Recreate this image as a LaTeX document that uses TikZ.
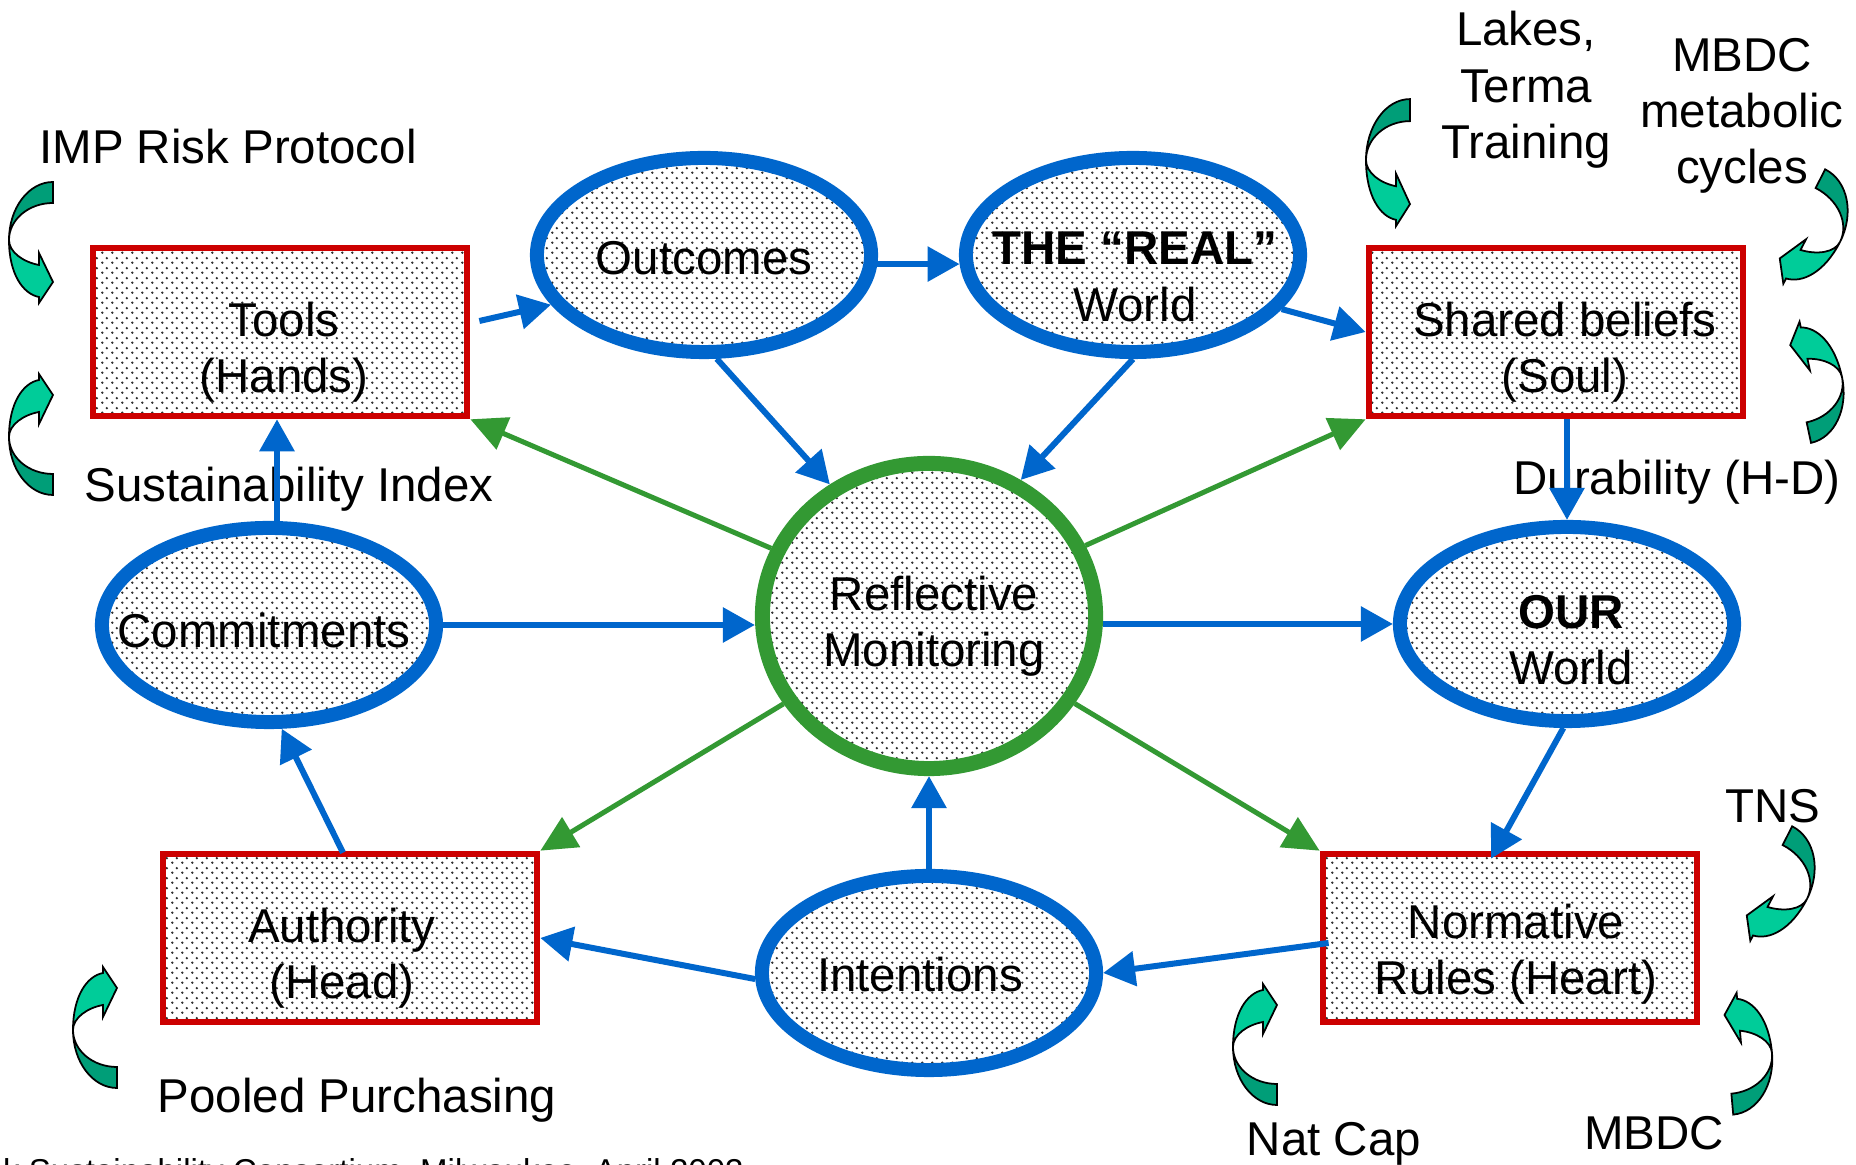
\documentclass[tikz,border=0pt]{standalone}
\usepackage{fontspec}
\setmainfont{Liberation Sans}
\usetikzlibrary{arrows.meta,shapes.geometric,patterns,calc}

\definecolor{bluec}{HTML}{0066CC}
\definecolor{greenc}{HTML}{339933}
\definecolor{redc}{HTML}{CC0000}
\definecolor{teallight}{HTML}{00CC99}
\definecolor{tealdark}{HTML}{009E78}
\definecolor{dotc}{HTML}{303030}

\pgfdeclarepatternformonly{dotgrid}{\pgfpoint{0cm}{0cm}}{\pgfpoint{0.1cm}{0.1cm}}{\pgfpoint{0.1cm}{0.1cm}}{%
  \pgfpathcircle{\pgfpoint{0.025cm}{0.025cm}}{0.014cm}%
  \pgfpathcircle{\pgfpoint{0.075cm}{0.075cm}}{0.014cm}%
  \pgfusepath{fill}}

\newcommand{\tealarrow}[1]{%
  \begin{scope}[#1]
    \filldraw[fill=tealdark, draw=black, line width=0.5pt]
      (0,0) .. controls (0,-32) and (19.7,-58) .. (44,-58) -- (44,-37)
      .. controls (19.7,-37) and (0,-20.4) .. (0,0) -- cycle;
    \filldraw[fill=teallight, draw=black, line width=0.5pt]
      (0,0) .. controls (0,34) and (14,54) .. (30,57) -- (30,63) -- (44,42)
      -- (30,13) -- (30,25) .. controls (14,22) and (0,12) .. (0,0) -- cycle;
  \end{scope}}

\tikzset{
  box/.style={rectangle, draw=redc, line width=0.065cm, minimum width=3.74cm,
    minimum height=1.68cm, inner sep=0pt, pattern=dotgrid, pattern color=dotc},
  oval/.style={ellipse, draw=bluec, line width=0.14cm, minimum width=3.34cm,
    minimum height=1.94cm, inner sep=0pt, pattern=dotgrid, pattern color=dotc},
  hub/.style={ellipse, draw=greenc, line width=0.15cm, minimum width=3.33cm,
    minimum height=3.05cm, inner sep=0pt, pattern=dotgrid, pattern color=dotc},
  txt/.style={font=\fontsize{13.5}{16}\selectfont, align=center, inner sep=0pt},
  barr/.style={draw=bluec, line width=0.06cm, -{Triangle[length=0.32cm,width=0.34cm]}},
  garr/.style={draw=greenc, line width=0.05cm, -{Triangle[length=0.36cm,width=0.34cm]}},
}

\begin{document}
\begin{tikzpicture}[x=0.01cm, y=-0.01cm]
\useasboundingbox (0,0) rectangle (1856,1165);
\clip (0,0) rectangle (1856,1165);
\fill[white] (0,0) rectangle (1856,1165);

% shapes
\node[box] (tools) at (280,332) {};
\node[box] (shared) at (1556,332) {};
\node[box] (auth) at (350,938) {};
\node[box] (norm) at (1510,938) {};
\node[oval] (outc) at (704,255) {};
\node[oval] (real) at (1133,255) {};
\node[oval] (comm) at (269,625) {};
\node[oval] (our) at (1567,624) {};
\node[oval] (intent) at (929,973) {};
\node[hub] (refl) at (929,616) {};

% texts in shapes
\node[txt] (tools-t) at (284,352) {Tools\\(Hands)};
\node[txt] (outc-t) at (704,258) {Outcomes};
\node[txt] (real-t) at (1135,277) {\textbf{THE “REAL”}\\World};
\node[txt] (shared-t) at (1565,352) {Shared beliefs\\(Soul)};
\node[txt] (comm-t) at (264,631) {Commitments};
\node[txt] (refl-t) at (934,626) {Reflective\\Monitoring};
\node[txt] (our-t) at (1571,640) {\textbf{OUR}\\World};
\node[txt] (auth-t) at (342,958) {Authority\\(Head)};
\node[txt] (intent-t) at (920,975) {Intentions};
\node[txt] (norm-t) at (1516,954) {Normative\\Rules (Heart)};

% free labels
\node[txt] (imp) at (228,147) {IMP Risk Protocol};
\node[txt] (susidx) at (289,489) {Sustainability Index};
\node[txt] (pooled) at (357,1100) {Pooled Purchasing};
\node[txt] (lakes) at (1526,90) {Lakes,\\Terma\\Training};
\node[txt] (mbdc1) at (1742,116) {MBDC\\metabolic\\cycles};
\node[txt] (durab) at (1677,482) {Durability (H-D)};
\node[txt] (tns) at (1773,806) {TNS};
\node[txt] (natcap) at (1334,1144) {Nat Cap};
\node[txt] (mbdc2) at (1654,1133) {MBDC};
\node[anchor=north west, inner sep=0pt, font=\fontsize{9.4}{11}\selectfont] (foot) at (-14,1158)
  {ck Sustainability Consortium, Milwaukee, April 2003};

% blue connectors
\draw[barr] ($(tools.east)+(9,-11)$) -- (outc.198);
\draw[barr] (outc.-3.5) -- (real.183.5);
\draw[barr] (real.-20) -- (shared.west);
\draw[barr] (outc.-83) -- (refl.127);
\draw[barr] (real.south) -- (refl.56);
\draw[barr] (our.north |- shared.south) -- (our.north);
\coordinate (c1) at ($(comm.north)+(8,0)$);
\draw[barr] (c1) -- (c1 |- tools.south);
\draw[barr] (comm.east) -- (comm.east -| refl.west);
\draw[barr] (refl.east |- our.west) -- (our.west);
\draw[barr] (our.-92) -- ($(norm.north)+(-19,8)$);
\draw[barr] ($(auth.north)+(-7,2)$) -- (comm.-83);
\draw[barr] (intent.north) -- (refl.south);
\draw[barr] (intent.182) -- (auth.east);
\draw[barr] ($(norm.west)+(9,5)$) -- (intent.east);

% green connectors
\draw[garr] (refl) -- (tools.south east);
\draw[garr] (refl) -- (shared.south west);
\draw[garr] (refl) -- (auth.north east);
\draw[garr] (refl) -- (norm.north west);

% curved teal arrows
\tealarrow{shift={(9,240)}}
\tealarrow{shift={(9,437)}, yscale=-1}
\tealarrow{shift={(73,1030)}, yscale=-1}
\tealarrow{shift={(1366,160)}, yscale=1.05}
\tealarrow{shift={(1840,242)}, rotate=-27, xscale=-1.05}
\tealarrow{shift={(1842,377)}, rotate=12, xscale=-1, yscale=-1}
\tealarrow{shift={(1807,899)}, rotate=-27, xscale=-1.05}
\tealarrow{shift={(1233,1047)}, yscale=-1}
\tealarrow{shift={(1772,1053)}, rotate=5, xscale=-1, yscale=-1}
\end{tikzpicture}
\end{document}
